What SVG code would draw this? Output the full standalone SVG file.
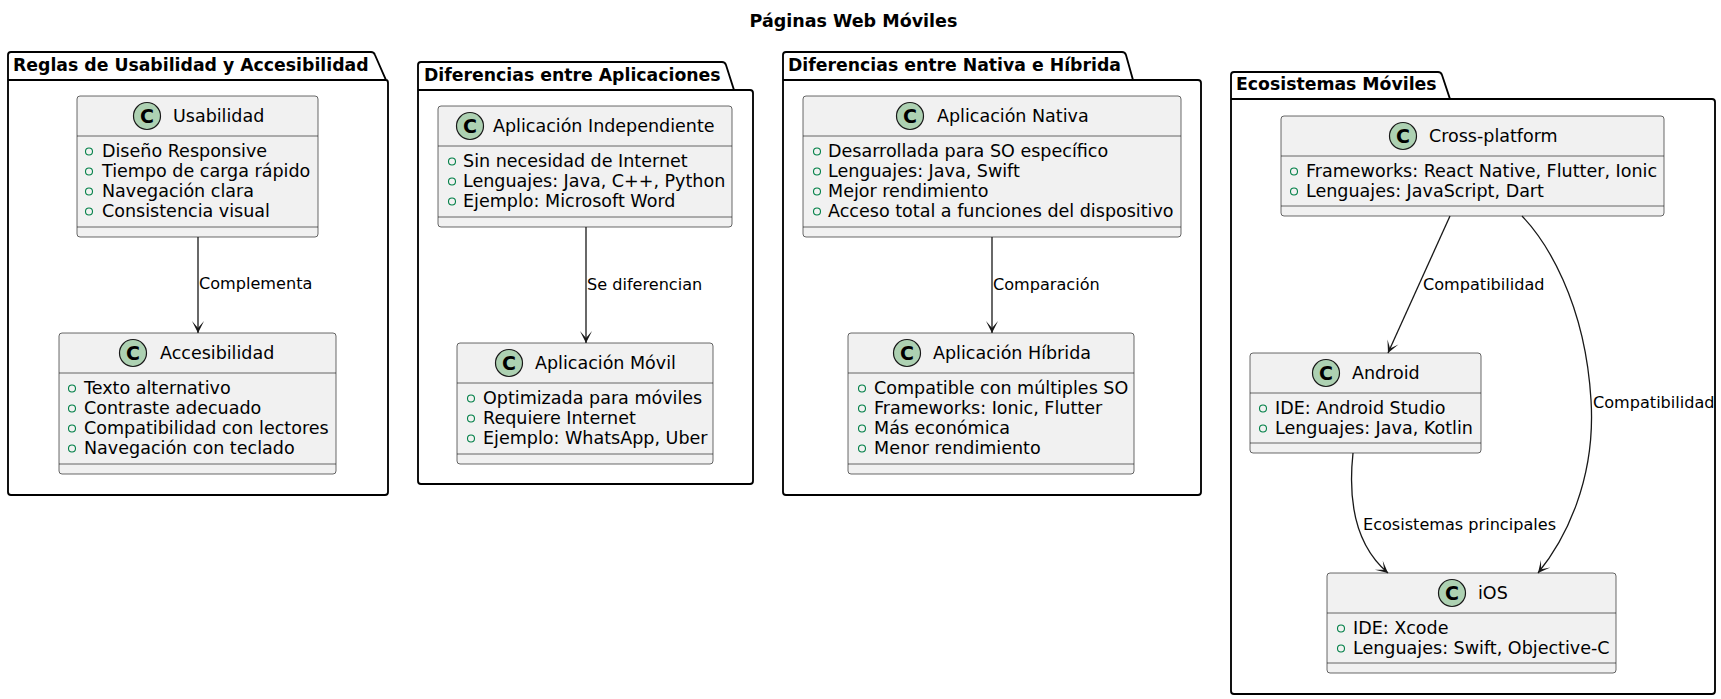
<svg xmlns="http://www.w3.org/2000/svg" width="1721" height="699" viewBox="0 0 1721 699">
<defs>
<marker id="arr" markerUnits="userSpaceOnUse" markerWidth="16" markerHeight="14" viewBox="-14 -7 16 14" refX="0" refY="0" orient="auto">
<path d="M0,0 L-12,-6 L-5,0 L-12,6 Z" fill="#181818"/>
</marker>
<g id="cicon">
<circle cx="0" cy="0" r="13.5" fill="#ADD1B2" stroke="#181818" stroke-width="1.2"/>
<text x="0" y="6.5" text-anchor="middle" class="cl">C</text>
</g>
</defs>
<style>
text{font-family:"DejaVu Sans","Liberation Sans",sans-serif;fill:#000}
.t{font-size:17.5px;font-weight:bold}
.pk{font-size:17.3px;font-weight:bold}
.nm{font-size:17.5px}
.at{font-size:17.55px}
.lb{font-size:16.1px}
.cl{font-size:19px;font-weight:bold}
.box{fill:#F1F1F1;stroke:#181818;stroke-width:0.65}
.dv{stroke:#181818;stroke-width:0.65}
.pkg{fill:none;stroke:#000;stroke-width:1.85}
.ic{fill:none;stroke:#038048;stroke-width:1.1}
.e{fill:none;stroke:#181818;stroke-width:1.3}
</style>
<rect width="1721" height="699" fill="#fff"/>
<text class="t" x="853.5" y="27" text-anchor="middle">Páginas Web Móviles</text>

<g id="pkg-usabilidad">
<path class="pkg" d="M8,55 Q8,52 11,52 H371 Q374,52 375,55 L386,80 Q388,80 388,83 V492 Q388,495 385,495 H11 Q8,495 8,492 Z M8,80 H386"/>
<text class="pk" x="13" y="71">Reglas de Usabilidad y Accesibilidad</text>
</g>
<g id="pkg-diferencias">
<path class="pkg" d="M418,65 Q418,62 421,62 H722 Q725,62 726,65 L734,90 H750 Q753,90 753,93 V481 Q753,484 750,484 H421 Q418,484 418,481 Z M418,90 H734"/>
<text class="pk" x="424" y="81">Diferencias entre Aplicaciones</text>
</g>
<g id="pkg-nativa">
<path class="pkg" d="M783,55 Q783,52 786,52 H1122 Q1125,52 1126,55 L1133,80 H1198 Q1201,80 1201,83 V492 Q1201,495 1198,495 H786 Q783,495 783,492 Z M783,80 H1133"/>
<text class="pk" x="788" y="71">Diferencias entre Nativa e Híbrida</text>
</g>
<g id="pkg-ecosistemas">
<path class="pkg" d="M1231,75 Q1231,72 1234,72 H1438 Q1441,72 1442,75 L1450,99 H1712 Q1715,99 1715,102 V691 Q1715,694 1712,694 H1234 Q1231,694 1231,691 Z M1231,99 H1450"/>
<text class="pk" x="1236" y="90">Ecosistemas Móviles</text>
</g>

<g id="usabilidad">
<rect class="box" x="77" y="96" width="241" height="141" rx="3"/>
<line class="dv" x1="77" y1="136" x2="318" y2="136"/><line class="dv" x1="77" y1="227" x2="318" y2="227"/>
<use href="#cicon" x="147" y="116"/>
<text class="nm" x="173" y="122">Usabilidad</text>
<circle class="ic" cx="89" cy="151.5" r="3.5"/><text class="at" x="102" y="157">Diseño Responsive</text>
<circle class="ic" cx="89" cy="171.5" r="3.5"/><text class="at" x="102" y="177">Tiempo de carga rápido</text>
<circle class="ic" cx="89" cy="191.5" r="3.5"/><text class="at" x="102" y="197">Navegación clara</text>
<circle class="ic" cx="89" cy="211.5" r="3.5"/><text class="at" x="102" y="217">Consistencia visual</text>
</g>
<g id="accesibilidad">
<rect class="box" x="59" y="333" width="277" height="141" rx="3"/>
<line class="dv" x1="59" y1="373" x2="336" y2="373"/><line class="dv" x1="59" y1="464" x2="336" y2="464"/>
<use href="#cicon" x="133" y="353"/>
<text class="nm" x="160" y="359">Accesibilidad</text>
<circle class="ic" cx="72" cy="388.5" r="3.5"/><text class="at" x="84" y="394">Texto alternativo</text>
<circle class="ic" cx="72" cy="408.5" r="3.5"/><text class="at" x="84" y="414">Contraste adecuado</text>
<circle class="ic" cx="72" cy="428.5" r="3.5"/><text class="at" x="84" y="434">Compatibilidad con lectores</text>
<circle class="ic" cx="72" cy="448.5" r="3.5"/><text class="at" x="84" y="454">Navegación con teclado</text>
</g>
<g id="independiente">
<rect class="box" x="438" y="106" width="294" height="121" rx="3"/>
<line class="dv" x1="438" y1="146" x2="732" y2="146"/><line class="dv" x1="438" y1="217" x2="732" y2="217"/>
<use href="#cicon" x="470" y="126"/>
<text class="nm" x="493" y="132">Aplicación Independiente</text>
<circle class="ic" cx="452" cy="161.5" r="3.5"/><text class="at" x="463" y="167">Sin necesidad de Internet</text>
<circle class="ic" cx="452" cy="181.5" r="3.5"/><text class="at" x="463" y="187">Lenguajes: Java, C++, Python</text>
<circle class="ic" cx="452" cy="201.5" r="3.5"/><text class="at" x="463" y="207">Ejemplo: Microsoft Word</text>
</g>
<g id="movil">
<rect class="box" x="457" y="343" width="256" height="121" rx="3"/>
<line class="dv" x1="457" y1="383" x2="713" y2="383"/><line class="dv" x1="457" y1="454" x2="713" y2="454"/>
<use href="#cicon" x="509" y="363"/>
<text class="nm" x="535" y="369">Aplicación Móvil</text>
<circle class="ic" cx="471" cy="398.5" r="3.5"/><text class="at" x="483" y="404">Optimizada para móviles</text>
<circle class="ic" cx="471" cy="418.5" r="3.5"/><text class="at" x="483" y="424">Requiere Internet</text>
<circle class="ic" cx="471" cy="438.5" r="3.5"/><text class="at" x="483" y="444">Ejemplo: WhatsApp, Uber</text>
</g>
<g id="nativa">
<rect class="box" x="803" y="96" width="378" height="141" rx="3"/>
<line class="dv" x1="803" y1="136" x2="1181" y2="136"/><line class="dv" x1="803" y1="227" x2="1181" y2="227"/>
<use href="#cicon" x="910" y="116"/>
<text class="nm" x="937" y="122">Aplicación Nativa</text>
<circle class="ic" cx="817" cy="151.5" r="3.5"/><text class="at" x="828" y="157">Desarrollada para SO específico</text>
<circle class="ic" cx="817" cy="171.5" r="3.5"/><text class="at" x="828" y="177">Lenguajes: Java, Swift</text>
<circle class="ic" cx="817" cy="191.5" r="3.5"/><text class="at" x="828" y="197">Mejor rendimiento</text>
<circle class="ic" cx="817" cy="211.5" r="3.5"/><text class="at" x="828" y="217">Acceso total a funciones del dispositivo</text>
</g>
<g id="hibrida">
<rect class="box" x="848" y="333" width="286" height="141" rx="3"/>
<line class="dv" x1="848" y1="373" x2="1134" y2="373"/><line class="dv" x1="848" y1="464" x2="1134" y2="464"/>
<use href="#cicon" x="907" y="353"/>
<text class="nm" x="933" y="359">Aplicación Híbrida</text>
<circle class="ic" cx="862" cy="388.5" r="3.5"/><text class="at" x="874" y="394">Compatible con múltiples SO</text>
<circle class="ic" cx="862" cy="408.5" r="3.5"/><text class="at" x="874" y="414">Frameworks: Ionic, Flutter</text>
<circle class="ic" cx="862" cy="428.5" r="3.5"/><text class="at" x="874" y="434">Más económica</text>
<circle class="ic" cx="862" cy="448.5" r="3.5"/><text class="at" x="874" y="454">Menor rendimiento</text>
</g>
<g id="crossplatform">
<rect class="box" x="1281" y="116" width="383" height="100" rx="3"/>
<line class="dv" x1="1281" y1="156" x2="1664" y2="156"/><line class="dv" x1="1281" y1="206" x2="1664" y2="206"/>
<use href="#cicon" x="1403" y="136"/>
<text class="nm" x="1429" y="142">Cross-platform</text>
<circle class="ic" cx="1294" cy="171.5" r="3.5"/><text class="at" x="1306" y="177">Frameworks: React Native, Flutter, Ionic</text>
<circle class="ic" cx="1294" cy="191.5" r="3.5"/><text class="at" x="1306" y="197">Lenguajes: JavaScript, Dart</text>
</g>
<g id="android">
<rect class="box" x="1250" y="353" width="231" height="100" rx="3"/>
<line class="dv" x1="1250" y1="393" x2="1481" y2="393"/><line class="dv" x1="1250" y1="443" x2="1481" y2="443"/>
<use href="#cicon" x="1326" y="373"/>
<text class="nm" x="1352" y="379">Android</text>
<circle class="ic" cx="1263" cy="408.5" r="3.5"/><text class="at" x="1275" y="414">IDE: Android Studio</text>
<circle class="ic" cx="1263" cy="428.5" r="3.5"/><text class="at" x="1275" y="434">Lenguajes: Java, Kotlin</text>
</g>
<g id="ios">
<rect class="box" x="1327" y="573" width="289" height="100" rx="3"/>
<line class="dv" x1="1327" y1="613" x2="1616" y2="613"/><line class="dv" x1="1327" y1="663" x2="1616" y2="663"/>
<use href="#cicon" x="1452" y="593"/>
<text class="nm" x="1478" y="599">iOS</text>
<circle class="ic" cx="1341" cy="628.5" r="3.5"/><text class="at" x="1353" y="634">IDE: Xcode</text>
<circle class="ic" cx="1341" cy="648.5" r="3.5"/><text class="at" x="1353" y="654">Lenguajes: Swift, Objective-C</text>
</g>

<g id="connectors">
<path class="e" d="M198,237 V333" marker-end="url(#arr)"/>
<text class="lb" x="199" y="289">Complementa</text>
<path class="e" d="M586,227 V343" marker-end="url(#arr)"/>
<text class="lb" x="587" y="290">Se diferencian</text>
<path class="e" d="M992,237 V333" marker-end="url(#arr)"/>
<text class="lb" x="993" y="290">Comparación</text>
<path class="e" d="M1450,216 L1388,353" marker-end="url(#arr)"/>
<text class="lb" x="1423" y="290">Compatibilidad</text>
<path class="e" d="M1522,216 C1545,240 1585,300 1591,400 C1596,480 1565,540 1538,573" marker-end="url(#arr)"/>
<text class="lb" x="1593" y="408">Compatibilidad</text>
<path class="e" d="M1353,453 C1348,500 1355,545 1388,573" marker-end="url(#arr)"/>
<text class="lb" x="1363" y="530">Ecosistemas principales</text>
</g>
</svg>
